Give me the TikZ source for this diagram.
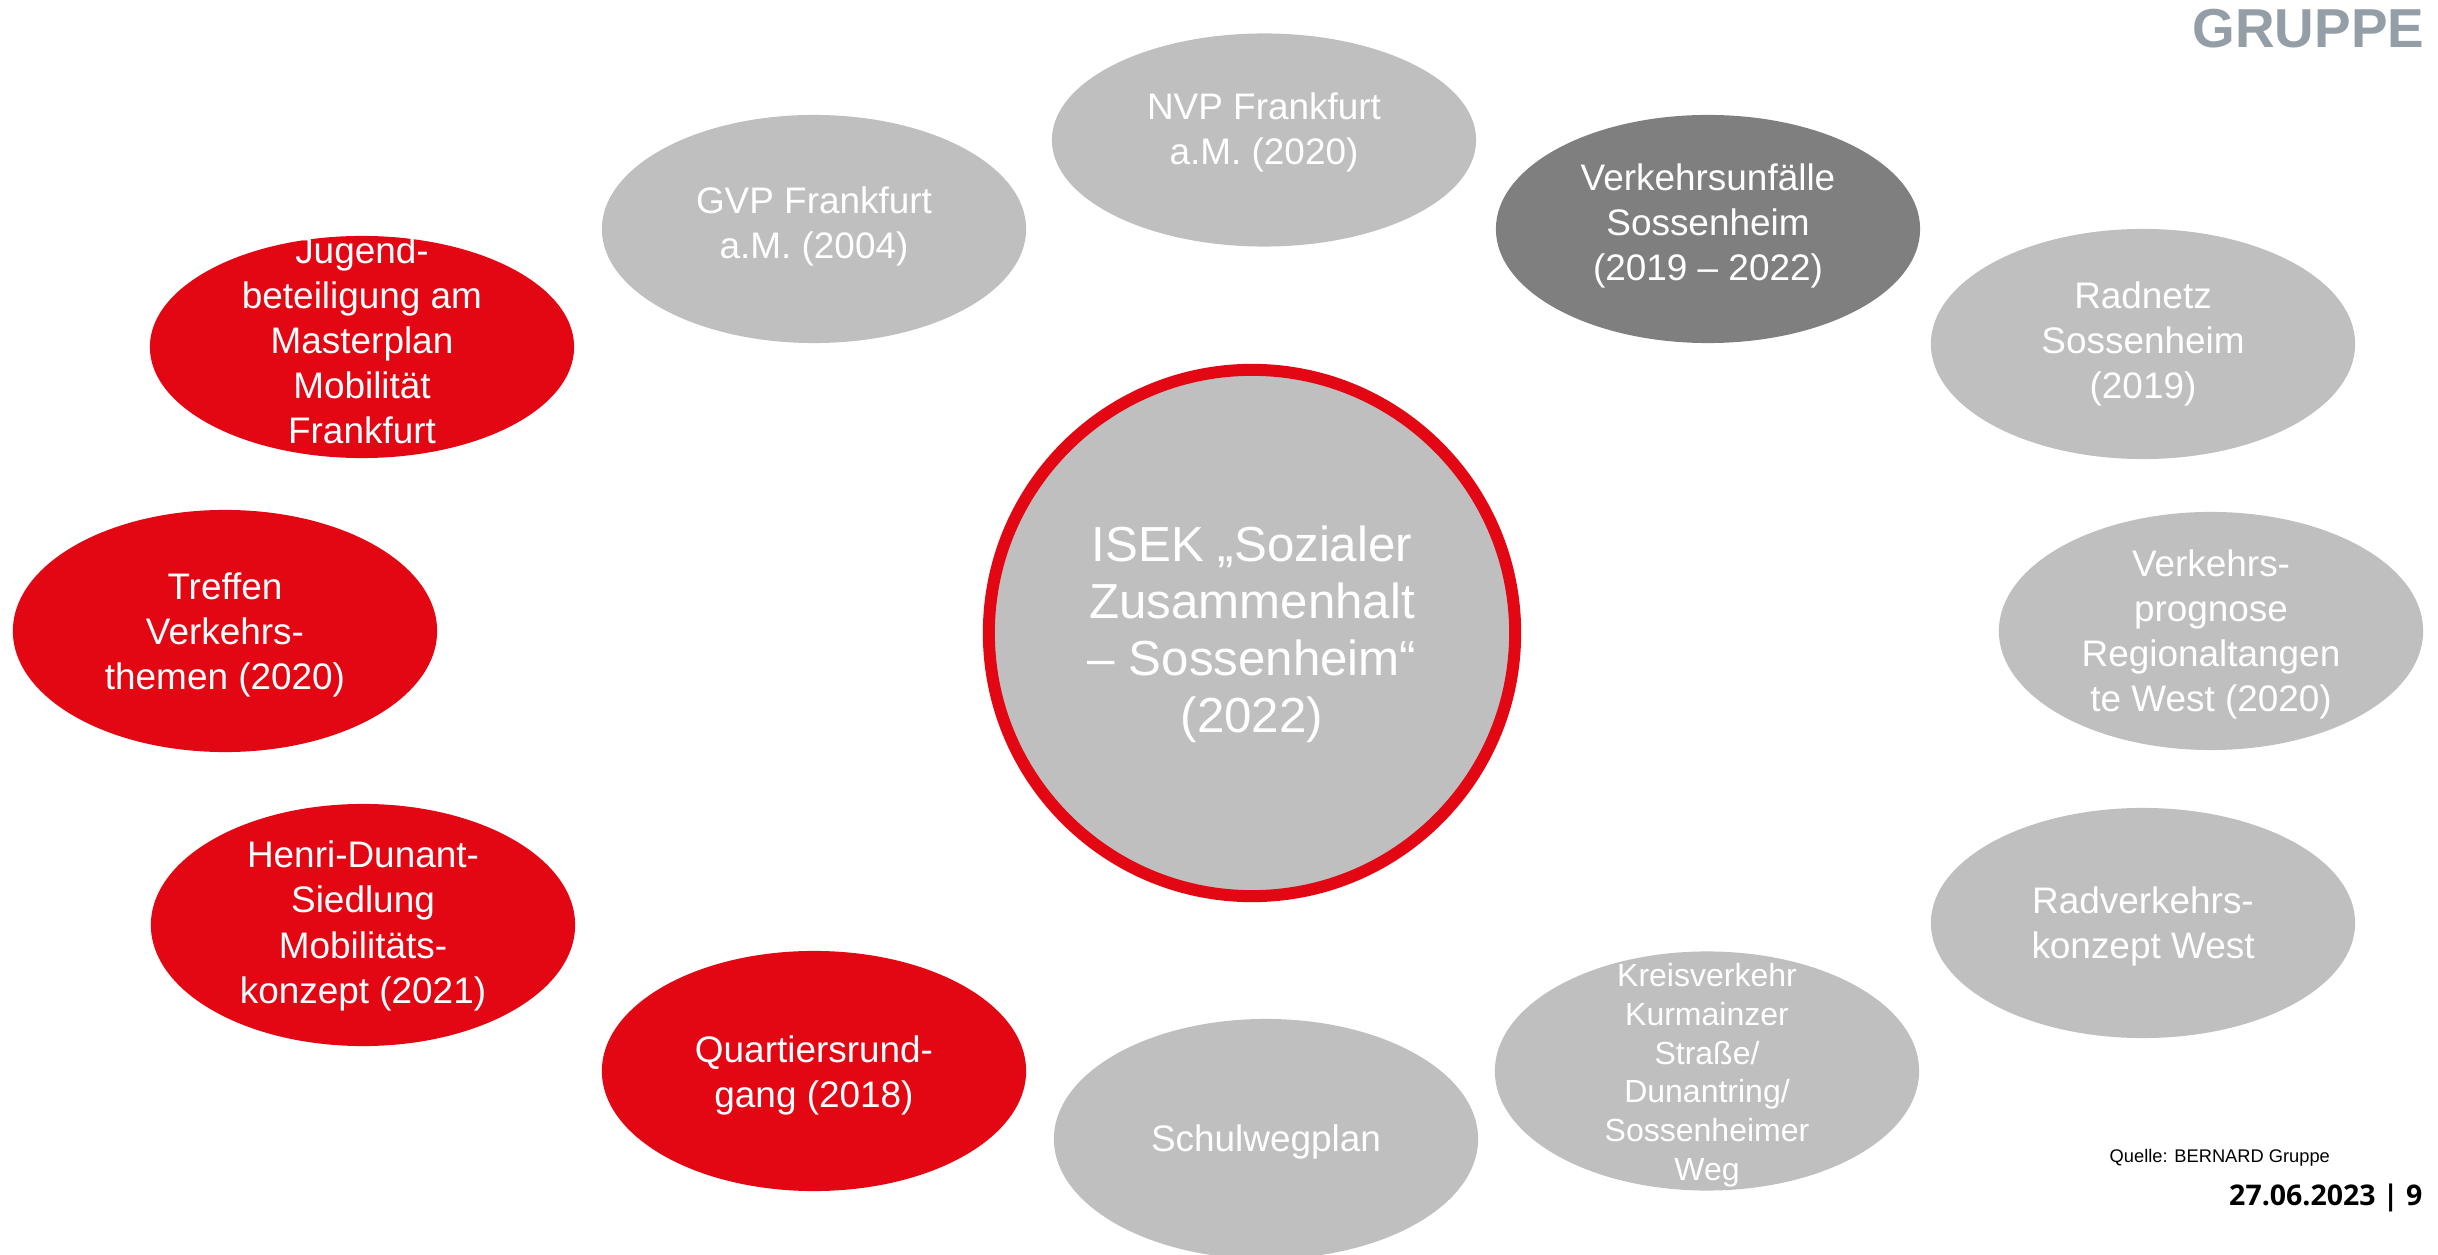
\documentclass[tikz,border=0pt]{standalone}
\usepackage{fontspec}
\setmainfont{Liberation Sans}
\newfontfamily\datefont{Open Sans}
\usetikzlibrary{shapes.geometric, positioning}

\definecolor{isekred}{HTML}{E30613}
\definecolor{bubblegray}{HTML}{BFBFBF}
\definecolor{bubbledark}{HTML}{7F7F7F}
\definecolor{logogray}{HTML}{939EA6}

\begin{document}
\begin{tikzpicture}[x=0.01cm, y=-0.01cm]
    % Define styles for the nodes
    \tikzstyle{bubble} = [
        ellipse, fill=bubblegray, inner sep=0pt,
        minimum width=4.24cm, minimum height=2.30cm
    ]
    \tikzstyle{bubble_txt} = [
        text=white, align=center, inner sep=0pt,
        font=\fontsize{10.5}{12.8}\selectfont,
        execute at begin node=\strut, execute at end node=\strut
    ]

    % Page frame
    \useasboundingbox (0,0) rectangle (2438,1255);

    % Centre circle
    \node[
        circle, draw=isekred, line width=0.12cm, fill=bubblegray,
        minimum size=5.26cm, inner sep=0pt
    ] (isek) at (1252,633) {};
    \node[
        bubble_txt, yshift=-1.3pt, font=\fontsize{14}{16.2}\selectfont
    ] (isek_txt) at (isek) {ISEK „Sozialer\\Zusammenhalt\\– Sossenheim“\\(2022)};

    % Top row
    \node[bubble, minimum height=2.13cm] (nvp) at (1264,140) {};
    \node[bubble_txt, yshift=1.3pt] (nvp_txt) at (nvp) {NVP Frankfurt\\a.M. (2020)};

    \node[bubble, minimum height=2.28cm] (gvp) at (814,229) {};
    \node[bubble_txt] (gvp_txt) at (gvp) {GVP Frankfurt\\a.M. (2004)};

    \node[bubble, fill=bubbledark, minimum height=2.28cm] (unfaelle) at (1708,229) {};
    \node[bubble_txt] (unfaelle_txt) at (unfaelle) {Verkehrsunfälle\\Sossenheim\\(2019 – 2022)};

    % Left side (red)
    \node[bubble, fill=isekred, minimum height=2.22cm] (jugend) at (362,347) {};
    \node[bubble_txt] (jugend_txt) at (jugend) {Jugend-\\beteiligung am\\Masterplan\\Mobilität\\Frankfurt};

    \node[bubble, fill=isekred, minimum height=2.42cm] (treffen) at (225,631) {};
    \node[bubble_txt, yshift=-2pt] (treffen_txt) at (treffen) {Treffen\\Verkehrs-\\themen (2020)};

    \node[bubble, fill=isekred, minimum height=2.42cm] (dunant) at (363,925) {};
    \node[bubble_txt, yshift=-1.1pt] (dunant_txt) at (dunant) {Henri-Dunant-\\Siedlung\\Mobilitäts-\\konzept (2021)};

    \node[bubble, fill=isekred, minimum height=2.40cm] (rundgang) at (814,1071) {};
    \node[bubble_txt, yshift=-2.2pt] (rundgang_txt) at (rundgang) {Quartiersrund-\\gang (2018)};

    % Right side
    \node[bubble] (radnetz) at (2143,344) {};
    \node[bubble_txt, yshift=-0.9pt] (radnetz_txt) at (radnetz) {Radnetz\\Sossenheim\\(2019)};

    \node[bubble, minimum height=2.38cm] (prognose) at (2211,631) {};
    \node[bubble_txt, yshift=-1.8pt] (prognose_txt) at (prognose) {Verkehrs-\\prognose\\Regionaltangen\\te West (2020)};

    \node[bubble] (radkonzept) at (2143,923) {};
    \node[bubble_txt, yshift=-1.8pt] (radkonzept_txt) at (radkonzept) {Radverkehrs-\\konzept West};

    % Bottom row
    \node[bubble, minimum height=2.39cm] (kreisel) at (1707,1071) {};
    \node[
        bubble_txt, yshift=-1.9pt, font=\fontsize{9.1}{11}\selectfont
    ] (kreisel_txt) at (kreisel) {Kreisverkehr\\Kurmainzer\\Straße/\\Dunantring/\\Sossenheimer\\Weg};

    \node[bubble, minimum height=2.40cm] (schulweg) at (1266,1139) {};
    \node[bubble_txt, yshift=-0.9pt] (schulweg_txt) at (schulweg) {Schulwegplan};

    % Logo, source and footer
    \node[
        anchor=base east, inner sep=0pt, text=logogray,
        font=\fontsize{15.6}{18}\selectfont\bfseries
    ] (logo) at (2425,48) {GRUPPE};
    \node[
        anchor=base west, inner sep=0pt,
        font=\fontsize{5.2}{6}\selectfont
    ] (quelle) at (2109,1162) {Quelle: BERNARD Gruppe};
    \node[
        anchor=base east, inner sep=0pt,
        font=\datefont\fontsize{8.1}{10}\selectfont\bfseries
    ] (datum) at (2423,1205) {27.06.2023 | 9};

\end{tikzpicture}
\end{document}
